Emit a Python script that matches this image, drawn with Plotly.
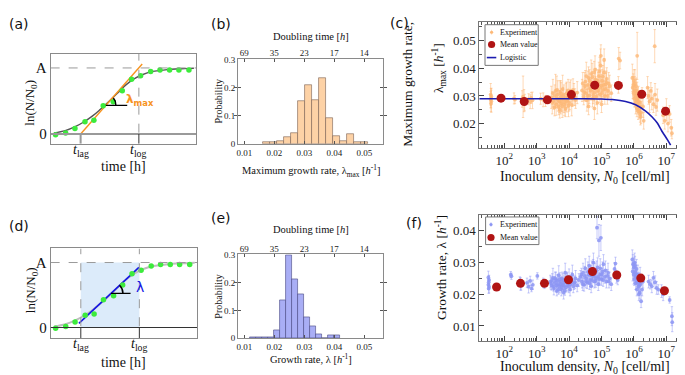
import plotly.graph_objects as go

W, H = 685, 375
SERIF = "Liberation Serif, Times New Roman, serif"
SANS = "DejaVu Sans, Arial, sans-serif"


def px(x):
    return x / W


def py(y):
    return 1 - y / H


# ---------------- schematic growth curve, panels (a) and (d) ----------------
sch_time = [0.34, 1.03, 1.67, 2.36, 2.97, 3.61, 4.30, 4.92, 5.56, 6.18, 6.87, 7.51, 8.17, 8.81, 9.50]
sch_lnN = [-0.01, 0.015, 0.084, 0.187, 0.207, 0.428, 0.487, 0.655, 0.827, 0.882, 0.945, 0.968, 0.968, 0.968, 0.968]
sch_curve_t = [0.23, 1.0, 1.72, 2.3, 2.86, 3.4, 4.0, 4.6, 5.15, 5.7, 6.29, 6.85, 7.44, 8.0, 8.58, 9.2, 9.84]
sch_curve_v = [0.015, 0.05, 0.114, 0.185, 0.27, 0.37, 0.49, 0.62, 0.74, 0.83, 0.897, 0.94, 0.96, 0.975, 0.985, 0.99, 0.995]
t_lag, t_log = 2.06, 6.06
tangent_t = [2.06, 6.29]
tangent_v = [0.0, 1.06]
fit_t = [1.93, 6.03]
fit_v = [0.065, 0.925]

# ---------------- histograms (b) and (e) ----------------
b_bin_left = [0.0162, 0.0185, 0.0209, 0.0232, 0.0255, 0.0279, 0.0302, 0.0325,
              0.0348, 0.0372, 0.0395, 0.0418, 0.0441, 0.0465, 0.0488]
b_prob = [0.006, 0.006, 0.010, 0.023, 0.037, 0.152, 0.208, 0.156,
          0.233, 0.093, 0.028, 0.009, 0.034, 0.006, 0.005]
b_width = 0.00233
e_bin_left = [0.012, 0.014, 0.016, 0.018, 0.020, 0.022, 0.024, 0.026,
              0.028, 0.030, 0.032, 0.034, 0.036, 0.038, 0.040]
e_prob = [0.005, 0.005, 0.005, 0.005, 0.029, 0.138, 0.300, 0.213,
          0.158, 0.075, 0.043, 0.015, 0.0, 0.010, 0.010]
e_width = 0.002
rate_ticks = [0.01, 0.02, 0.03, 0.04, 0.05]
rate_ticktext = ["0.01", "0.02", "0.03", "0.04", "0.05"]
doubling_ticktext = ["69", "35", "23", "17", "14"]

# ---------------- panel (c): maximum growth rate vs inoculum (log10 N0, rate, error) ----------------
c_exp_log = [1.58, 1.60, 1.59, 1.58, 1.60, 1.59,
             2.30, 2.33, 2.55, 2.58, 2.61, 2.63, 2.75, 2.80, 2.83, 2.87, 3.12, 3.20, 3.27,
             3.45, 3.50, 3.52, 3.56, 3.58, 3.60, 3.63, 3.65, 3.68, 3.70, 3.72, 3.74, 3.76, 3.78,
             3.80, 3.82, 3.85, 3.87, 3.90, 3.92, 3.95, 3.98, 4.02, 4.05, 4.10, 4.15, 4.20, 4.25,
             3.48, 3.55, 3.62, 3.66, 3.71, 3.75, 3.79, 3.84, 3.89, 3.93, 3.97, 4.00, 4.08, 4.12, 4.18,
             4.40, 4.45, 4.48, 4.50, 4.52, 4.55, 4.58, 4.60, 4.60, 4.62, 4.65, 4.68, 4.70, 4.72,
             4.75, 4.78, 4.78, 4.80, 4.82, 4.85, 4.87, 4.90, 4.92, 4.95, 4.97, 4.98, 5.00, 5.00,
             5.02, 5.05, 5.08, 5.08, 5.10, 5.13, 5.16, 5.20, 5.25, 5.30,
             4.42, 4.47, 4.53, 4.57, 4.63, 4.67, 4.71, 4.74, 4.77, 4.81, 4.84, 4.88, 4.91, 4.94,
             4.96, 5.01, 5.04, 5.07, 5.11, 5.15, 5.18, 5.22,
             5.52, 5.53, 5.57,
             5.95, 5.98, 6.00, 6.02, 6.04, 6.06, 6.08, 6.10, 6.10, 6.12, 6.14, 6.16, 6.18, 6.20,
             6.22, 6.25, 6.28, 6.30,
             5.96, 5.99, 6.01, 6.03, 6.05, 6.07, 6.09, 6.11, 6.13, 6.15, 6.19, 6.21,
             6.42, 6.45, 6.48, 6.52, 6.55, 6.60, 6.64, 6.65, 6.68, 6.72,
             6.90, 6.95, 7.00, 7.05, 7.10, 7.15, 7.17]
c_exp_rate = [0.0305, 0.0298, 0.0292, 0.0287, 0.0281, 0.0273,
              0.0291, 0.0287, 0.0289, 0.0297, 0.0283, 0.0276, 0.0288, 0.0279, 0.0293, 0.0284,
              0.0290, 0.0286, 0.0282,
              0.0295, 0.0310, 0.0282, 0.0300, 0.0318, 0.0270, 0.0290, 0.0305, 0.0262, 0.0280,
              0.0315, 0.0295, 0.0272, 0.0285, 0.0325, 0.0302, 0.0268, 0.0278, 0.0296, 0.0310,
              0.0288, 0.0265, 0.0300, 0.0318, 0.0292, 0.0305, 0.0285, 0.0312,
              0.0275, 0.0258, 0.0322, 0.0285, 0.0250, 0.0308, 0.0262, 0.0290, 0.0255, 0.0282,
              0.0320, 0.0275, 0.0268, 0.0322, 0.0296,
              0.0320, 0.0298, 0.0335, 0.0352, 0.0310, 0.0285, 0.0340, 0.0365, 0.0262, 0.0302,
              0.0325, 0.0380, 0.0348, 0.0290, 0.0335, 0.0312, 0.0255, 0.0395, 0.0360, 0.0328,
              0.0275, 0.0345, 0.0372, 0.0305, 0.0410, 0.0445, 0.0338, 0.0270, 0.0355, 0.0322,
              0.0385, 0.0430, 0.0300, 0.0342, 0.0362, 0.0318, 0.0335, 0.0310,
              0.0345, 0.0312, 0.0372, 0.0300, 0.0355, 0.0318, 0.0368, 0.0302, 0.0385, 0.0330,
              0.0298, 0.0355, 0.0318, 0.0390, 0.0330, 0.0310, 0.0370, 0.0340, 0.0325, 0.0350,
              0.0300, 0.0345,
              0.0340, 0.0435, 0.0428,
              0.0365, 0.0340, 0.0355, 0.0320, 0.0300, 0.0335, 0.0285, 0.0310, 0.0445, 0.0265,
              0.0295, 0.0250, 0.0275, 0.0225, 0.0240, 0.0300, 0.0262, 0.0210,
              0.0330, 0.0310, 0.0290, 0.0345, 0.0275, 0.0320, 0.0255, 0.0290, 0.0245, 0.0280,
              0.0235, 0.0260,
              0.0330, 0.0300, 0.0280, 0.0318, 0.0290, 0.0270, 0.0480, 0.0305, 0.0260, 0.0285,
              0.0230, 0.0210, 0.0250, 0.0200, 0.0235, 0.0185, 0.0165]
c_exp_err = [0.004, 0.003, 0.0035, 0.003, 0.004, 0.003,
             0.002, 0.0015, 0.003, 0.0075, 0.004, 0.003, 0.002, 0.0025, 0.002, 0.003,
             0.002, 0.0025, 0.002,
             0.004, 0.005, 0.003, 0.004, 0.006, 0.004, 0.003, 0.005, 0.003, 0.004,
             0.004, 0.006, 0.003, 0.004, 0.005, 0.003, 0.004, 0.003, 0.005, 0.004,
             0.003, 0.004, 0.005, 0.004, 0.003, 0.004, 0.003, 0.004,
             0.004, 0.003, 0.005, 0.004, 0.003, 0.004, 0.004, 0.005, 0.003, 0.004,
             0.004, 0.003, 0.004, 0.004, 0.003,
             0.004, 0.003, 0.005, 0.004, 0.003, 0.004, 0.005, 0.004, 0.003, 0.003,
             0.004, 0.005, 0.004, 0.003, 0.004, 0.003, 0.004, 0.005, 0.004, 0.003,
             0.004, 0.004, 0.005, 0.003, 0.006, 0.004, 0.004, 0.003, 0.004, 0.003,
             0.005, 0.004, 0.003, 0.004, 0.004, 0.003, 0.004, 0.003,
             0.004, 0.003, 0.005, 0.004, 0.004, 0.003, 0.005, 0.003, 0.004, 0.004,
             0.003, 0.004, 0.003, 0.005, 0.004, 0.003, 0.004, 0.004, 0.003, 0.004,
             0.003, 0.004,
             0.003, 0.004, 0.003,
             0.005, 0.004, 0.004, 0.005, 0.004, 0.003, 0.004, 0.004, 0.0085, 0.003,
             0.004, 0.003, 0.004, 0.003, 0.004, 0.003, 0.004, 0.003,
             0.004, 0.004, 0.003, 0.005, 0.004, 0.004, 0.003, 0.004, 0.003, 0.004,
             0.003, 0.004,
             0.004, 0.003, 0.004, 0.003, 0.004, 0.003, 0.006, 0.004, 0.003, 0.004,
             0.003, 0.003, 0.004, 0.003, 0.003, 0.003, 0.002]
c_mean_log = [1.90, 2.615, 3.33, 4.07, 4.79, 5.52, 6.24, 6.975]
c_mean_rate = [0.0292, 0.0280, 0.0286, 0.0305, 0.0339, 0.0338, 0.0306, 0.0245]
c_logistic_log = [1.23, 3.0, 4.5, 5.0, 5.33, 5.74, 6.05, 6.36, 6.56, 6.72, 6.85, 7.03, 7.13]
c_logistic_rate = [0.0290, 0.0290, 0.0290, 0.0289, 0.0287, 0.0280, 0.0268, 0.0245,
                   0.0224, 0.0202, 0.0175, 0.0142, 0.0122]

# ---------------- panel (f): growth rate vs inoculum (log10 N0, rate, error) ----------------
f_exp_log = [1.51, 1.53, 1.52, 1.51, 1.53, 1.52,
             2.20, 2.22, 2.48, 2.50, 2.52, 2.70, 2.75, 2.80, 2.84, 2.88, 3.02, 3.20, 3.24,
             3.42, 3.46, 3.50, 3.53, 3.56, 3.59, 3.62, 3.65, 3.68, 3.70, 3.73, 3.76, 3.78, 3.80,
             3.83, 3.85, 3.88, 3.90, 3.93, 3.96, 4.00, 4.03, 4.06, 4.10, 4.15, 4.20, 4.25, 4.30,
             3.44, 3.48, 3.52, 3.57, 3.61, 3.64, 3.67, 3.71, 3.74, 3.77, 3.81, 3.84, 3.87, 3.91,
             3.95, 3.99, 4.04, 4.08, 4.13, 4.18,
             4.35, 4.40, 4.43, 4.46, 4.50, 4.53, 4.56, 4.60, 4.62, 4.65, 4.68, 4.70, 4.72, 4.75,
             4.78, 4.80, 4.83, 4.86, 4.88, 4.90, 4.92, 4.95, 4.98, 5.00, 5.03, 5.06, 5.10, 5.15,
             5.20, 5.25, 5.30,
             4.38, 4.42, 4.48, 4.52, 4.58, 4.63, 4.67, 4.71, 4.74, 4.77, 4.82, 4.85, 4.89, 4.93,
             4.96, 5.01, 5.05, 5.12, 5.18, 5.23,
             5.40, 5.43, 5.46, 5.50,
             5.95, 5.97, 6.00, 6.02, 6.04, 6.06, 6.08, 6.10, 6.12, 6.14, 6.16, 6.18, 6.20, 6.22,
             6.25, 6.28,
             5.96, 5.99, 6.01, 6.03, 6.05, 6.07, 6.09, 6.11, 6.13, 6.15, 6.17, 6.19,
             6.45, 6.50, 6.55, 6.60, 6.65, 6.70, 6.75,
             6.85, 6.90, 7.10, 7.17, 7.18]
f_exp_rate = [0.0253, 0.0245, 0.0238, 0.0230, 0.0224, 0.0218,
              0.0262, 0.0257, 0.0240, 0.0233, 0.0228, 0.0236, 0.0224, 0.0242, 0.0218, 0.0230,
              0.0258, 0.0236, 0.0228,
              0.0240, 0.0228, 0.0252, 0.0218, 0.0236, 0.0245, 0.0210, 0.0232, 0.0260, 0.0224,
              0.0240, 0.0215, 0.0250, 0.0230, 0.0205, 0.0238, 0.0268, 0.0222, 0.0245, 0.0230,
              0.0255, 0.0215, 0.0240, 0.0262, 0.0235, 0.0250, 0.0228, 0.0245,
              0.0235, 0.0245, 0.0225, 0.0250, 0.0228, 0.0242, 0.0215, 0.0248, 0.0232, 0.0222,
              0.0245, 0.0228, 0.0212, 0.0238, 0.0250, 0.0225, 0.0232, 0.0248, 0.0225, 0.0238,
              0.0255, 0.0240, 0.0268, 0.0230, 0.0282, 0.0250, 0.0238, 0.0262, 0.0290, 0.0245,
              0.0225, 0.0275, 0.0258, 0.0300, 0.0240, 0.0268, 0.0250, 0.0410, 0.0285, 0.0232,
              0.0370, 0.0262, 0.0378, 0.0248, 0.0272, 0.0295, 0.0255, 0.0240, 0.0268, 0.0250,
              0.0232,
              0.0262, 0.0232, 0.0258, 0.0240, 0.0272, 0.0235, 0.0260, 0.0245, 0.0280, 0.0258,
              0.0242, 0.0275, 0.0255, 0.0248, 0.0282, 0.0262, 0.0245, 0.0275, 0.0258, 0.0240,
              0.0280, 0.0297, 0.0255, 0.0245,
              0.0310, 0.0295, 0.0285, 0.0300, 0.0270, 0.0255, 0.0280, 0.0240, 0.0262, 0.0225,
              0.0248, 0.0205, 0.0232, 0.0178, 0.0215, 0.0240,
              0.0272, 0.0262, 0.0248, 0.0290, 0.0235, 0.0262, 0.0215, 0.0250, 0.0240, 0.0200,
              0.0230, 0.0255,
              0.0240, 0.0232, 0.0225, 0.0252, 0.0238, 0.0220, 0.0215,
              0.0210, 0.0200, 0.0182, 0.0131, 0.0112]
f_exp_err = [0.002, 0.0015, 0.002, 0.0015, 0.002, 0.0015,
             0.001, 0.001, 0.0015, 0.002, 0.0015, 0.0015, 0.002, 0.0015, 0.001, 0.0015,
             0.001, 0.0015, 0.001,
             0.002, 0.0015, 0.003, 0.002, 0.002, 0.0025, 0.0015, 0.002, 0.003, 0.002,
             0.0015, 0.002, 0.002, 0.0015, 0.002, 0.002, 0.003, 0.0015, 0.002, 0.002,
             0.0025, 0.002, 0.002, 0.003, 0.002, 0.0025, 0.002, 0.002,
             0.002, 0.002, 0.0015, 0.002, 0.002, 0.002, 0.0015, 0.002, 0.002, 0.0015,
             0.002, 0.002, 0.0015, 0.002, 0.002, 0.002, 0.002, 0.002, 0.002, 0.002,
             0.002, 0.002, 0.003, 0.002, 0.003, 0.002, 0.002, 0.003, 0.003, 0.002,
             0.002, 0.003, 0.002, 0.003, 0.002, 0.003, 0.002, 0.0035, 0.003, 0.002,
             0.005, 0.003, 0.004, 0.002, 0.003, 0.003, 0.002, 0.002, 0.003, 0.002,
             0.002,
             0.002, 0.002, 0.003, 0.002, 0.003, 0.002, 0.003, 0.002, 0.003, 0.002,
             0.002, 0.003, 0.002, 0.002, 0.003, 0.002, 0.002, 0.003, 0.002, 0.002,
             0.002, 0.002, 0.002, 0.0015,
             0.003, 0.003, 0.003, 0.003, 0.003, 0.002, 0.003, 0.002, 0.003, 0.002,
             0.002, 0.002, 0.003, 0.002, 0.002, 0.002,
             0.003, 0.003, 0.002, 0.003, 0.002, 0.003, 0.002, 0.002, 0.002, 0.002,
             0.002, 0.003,
             0.002, 0.0015, 0.002, 0.002, 0.002, 0.002, 0.0015,
             0.002, 0.002, 0.001, 0.003, 0.003]
f_mean_log = [1.763, 2.50, 3.24, 3.98, 4.72, 5.47, 6.21, 6.94]
f_mean_rate = [0.0223, 0.02345, 0.02345, 0.0246, 0.0272, 0.0261, 0.0251, 0.0211]

capacity_log = 7.38
decade_exps = [2, 3, 4, 5, 6, 7]

# ---------------- colours ----------------
FRAME = "#8a8a8a"
ORANGE = "#F7931E"
GREEN = "#3CEB3C"
DARKRED = "#B01414"
NAVY = "#1C1CB0"
EXP_C = "#FDB877"
EXP_C_ERR = "rgba(253,185,120,0.6)"
EXP_F = "#8C95F3"
EXP_F_ERR = "rgba(150,158,245,0.6)"

fig = go.Figure()

# ---- (a) ----
fig.add_trace(go.Scatter(x=sch_curve_t, y=sch_curve_v, mode="lines", xaxis="x", yaxis="y",
                         line=dict(color="#555555", width=1.4, shape="spline"), hoverinfo="skip"))
fig.add_trace(go.Scatter(x=tangent_t, y=tangent_v, mode="lines", xaxis="x", yaxis="y",
                         line=dict(color=ORANGE, width=1.4), hoverinfo="skip"))
fig.add_trace(go.Scatter(x=sch_time, y=sch_lnN, mode="markers", xaxis="x", yaxis="y",
                         marker=dict(color=GREEN, size=5.5), hoverinfo="skip"))

# ---- (d) ----
fig.add_trace(go.Scatter(x=sch_curve_t, y=sch_curve_v, mode="lines", xaxis="x4", yaxis="y4",
                         line=dict(color="#bdbdbd", width=2, shape="spline"), hoverinfo="skip"))
fig.add_trace(go.Scatter(x=fit_t, y=fit_v, mode="lines", xaxis="x4", yaxis="y4",
                         line=dict(color="#1414E6", width=1.6), hoverinfo="skip"))
fig.add_trace(go.Scatter(x=sch_time, y=sch_lnN, mode="markers", xaxis="x4", yaxis="y4",
                         marker=dict(color=GREEN, size=5.5), hoverinfo="skip"))

# ---- (b) and (e) histograms ----
b_centers = [v + b_width / 2 for v in b_bin_left]
e_centers = [v + e_width / 2 for v in e_bin_left]
fig.add_trace(go.Bar(x=b_centers, y=b_prob, width=b_width, xaxis="x2", yaxis="y2",
                     marker=dict(color="#FDD2A6", line=dict(color="rgba(120,95,80,0.75)", width=0.8)),
                     hoverinfo="skip"))
fig.add_trace(go.Bar(x=e_centers, y=e_prob, width=e_width, xaxis="x5", yaxis="y5",
                     marker=dict(color="#A9AEF5", line=dict(color="rgba(70,70,130,0.75)", width=0.8)),
                     hoverinfo="skip"))
# anchors for the top (doubling time) axes
fig.add_trace(go.Scatter(x=[0.03], y=[0], xaxis="x7", yaxis="y2", mode="markers",
                         marker=dict(opacity=0), hoverinfo="skip"))
fig.add_trace(go.Scatter(x=[0.03], y=[0], xaxis="x8", yaxis="y5", mode="markers",
                         marker=dict(opacity=0), hoverinfo="skip"))

# ---- (c) ----
fig.add_trace(go.Scatter(x=[10 ** v for v in c_exp_log], y=c_exp_rate, mode="markers",
                         xaxis="x3", yaxis="y3", name="Experiment",
                         marker=dict(color=EXP_C, size=3.8, opacity=0.8),
                         error_y=dict(type="data", array=c_exp_err, color=EXP_C_ERR, thickness=0.9, width=1.2),
                         hoverinfo="skip"))
fig.add_trace(go.Scatter(x=[10 ** v for v in c_logistic_log], y=c_logistic_rate, mode="lines",
                         xaxis="x3", yaxis="y3", name="Logistic",
                         line=dict(color=NAVY, width=1.6, shape="spline", smoothing=0.6), hoverinfo="skip"))
fig.add_trace(go.Scatter(x=[10 ** v for v in c_mean_log], y=c_mean_rate, mode="markers",
                         xaxis="x3", yaxis="y3", name="Mean value",
                         marker=dict(color=DARKRED, size=9), hoverinfo="skip"))

# ---- (f) ----
fig.add_trace(go.Scatter(x=[10 ** v for v in f_exp_log], y=f_exp_rate, mode="markers",
                         xaxis="x6", yaxis="y6", name="Experiment",
                         marker=dict(color=EXP_F, size=3.8, opacity=0.85),
                         error_y=dict(type="data", array=f_exp_err, color=EXP_F_ERR, thickness=0.9, width=1.2),
                         hoverinfo="skip"))
fig.add_trace(go.Scatter(x=[10 ** v for v in f_mean_log], y=f_mean_rate, mode="markers",
                         xaxis="x6", yaxis="y6", name="Mean value",
                         marker=dict(color=DARKRED, size=9), hoverinfo="skip"))

# ---------------- axes ----------------
base = dict(showgrid=False, zeroline=False, showline=True, linecolor=FRAME, linewidth=1,
            mirror=True, fixedrange=True)

sch_x = dict(showticklabels=False, ticks="")
sch_ticky = dict(tickvals=[0, 1], ticktext=["0", "A"], ticks="",
                 tickfont=dict(family=SERIF, size=15, color="#111"))

hist_x = dict(tickvals=rate_ticks, ticktext=rate_ticktext, ticks="inside", ticklen=3,
              tickcolor="#555", tickfont=dict(family=SERIF, size=9, color="#222"))
hist_y = dict(tickvals=[0, 0.1, 0.2, 0.3], ticktext=["0", "0.1", "0.2", "0.3"], ticks="inside",
              ticklen=3, tickcolor="#555", tickfont=dict(family=SERIF, size=9, color="#222"))
hist_top = dict(tickvals=rate_ticks, ticktext=doubling_ticktext, ticks="inside", ticklen=3,
                tickcolor="#555", side="top", showline=False, showgrid=False, zeroline=False,
                range=[0.00787, 0.0564], fixedrange=True,
                tickfont=dict(family=SERIF, size=9, color="#222"))

minor_log = [m * 10 ** e for e in range(1, 8) for m in range(2, 10)]
log_x = dict(type="log", range=[1.23, 7.75], tickvals=[10 ** e for e in decade_exps],
             ticktext=["10<sup>%d</sup>" % e for e in decade_exps], ticks="inside", ticklen=5,
             tickcolor="#444", mirror="allticks", linecolor="#777",
             minor=dict(tickmode="array", tickvals=minor_log, ticks="inside", ticklen=3,
                        tickcolor="#555", showgrid=False),
             tickfont=dict(family=SERIF, size=13, color="#222"))

fig.update_layout(
    xaxis=dict(base, domain=[px(41.7), px(187.5)], range=[0, 10], anchor="y", **sch_x),
    yaxis=dict(base, domain=[py(135), py(42.7)], range=[-0.148, 1.216], anchor="x", **sch_ticky),
    xaxis4=dict(base, domain=[px(41.7), px(188.3)], range=[0, 10], anchor="y4", **sch_x),
    yaxis4=dict(base, domain=[py(334), py(242.3)], range=[-0.161, 1.216], anchor="x4", **sch_ticky),
    xaxis2=dict(base, domain=[px(229.3), px(375)], range=[0.00787, 0.0564], anchor="y2", **hist_x),
    yaxis2=dict(base, domain=[py(135), py(48.3)], range=[0, 0.3024], anchor="x2",
                **dict(hist_y, mirror="allticks")),
    xaxis7=dict(hist_top, overlaying="x2", anchor="y2"),
    xaxis5=dict(base, domain=[px(229.3), px(375)], range=[0.00787, 0.0564], anchor="y5", **hist_x),
    yaxis5=dict(base, domain=[py(334.3), py(248.3)], range=[0, 0.3035], anchor="x5",
                **dict(hist_y, mirror="allticks")),
    xaxis8=dict(hist_top, overlaying="x5", anchor="y5"),
    xaxis3=dict(base, domain=[px(471), px(682.7)], anchor="y3", **log_x),
    yaxis3=dict(base, domain=[py(139.5), py(10.7)], range=[0.01112, 0.05658], anchor="x3",
                tickvals=[0.02, 0.03, 0.04, 0.05], ticktext=["0.02", "0.03", "0.04", "0.05"],
                ticks="inside", ticklen=5, tickcolor="#444", mirror="allticks", linecolor="#777",
                minor=dict(dtick=0.005, tick0=0, ticks="inside", ticklen=3, tickcolor="#555"),
                tickfont=dict(family=SERIF, size=13, color="#222")),
    xaxis6=dict(base, domain=[px(471), px(682.7)], anchor="y6", **log_x),
    yaxis6=dict(base, domain=[py(337), py(207.7)], range=[0.00529, 0.0451], anchor="x6",
                tickvals=[0.01, 0.02, 0.03, 0.04], ticktext=["0.01", "0.02", "0.03", "0.04"],
                ticks="inside", ticklen=5, tickcolor="#444", mirror="allticks", linecolor="#777",
                minor=dict(dtick=0.005, tick0=0, ticks="inside", ticklen=3, tickcolor="#555"),
                tickfont=dict(family=SERIF, size=13, color="#222")),
)

# ---------------- shapes ----------------
shapes = []
# (a)
shapes += [
    dict(type="line", xref="x", yref="y", x0=0, x1=10, y0=1, y1=1,
         line=dict(color="#9a9a9a", width=1, dash="dash")),
    dict(type="line", xref="x", yref="y", x0=0, x1=10, y0=0, y1=0,
         line=dict(color="#9a9a9a", width=2.2)),
    dict(type="line", xref="x", yref="y", x0=t_lag, x1=t_lag, y0=-0.148, y1=0,
         line=dict(color="#9a9a9a", width=2)),
    dict(type="line", xref="x", yref="y", x0=t_log, x1=t_log, y0=0.02, y1=1.216,
         line=dict(color="#9a9a9a", width=1, dash="dash")),
    dict(type="line", xref="x", yref="y", x0=t_log, x1=t_log, y0=-0.148, y1=0,
         line=dict(color="#333333", width=1)),
    dict(type="line", xref="x", yref="y", x0=3.79, x1=5.26, y0=0.433, y1=0.433,
         line=dict(color="black", width=1.3)),
    dict(type="path", xref="x", yref="y", path="M 4.48,0.433 Q 4.48,0.501 4.31,0.544",
         line=dict(color="black", width=1.5)),
]
# (d)
shapes += [
    dict(type="rect", xref="x4", yref="y4", x0=t_lag, x1=t_log, y0=0, y1=1,
         fillcolor="#DCEBFA", line=dict(width=0), layer="below"),
    dict(type="line", xref="x4", yref="y4", x0=0, x1=10, y0=1, y1=1,
         line=dict(color="#9a9a9a", width=1, dash="dash")),
    dict(type="line", xref="x4", yref="y4", x0=0, x1=10, y0=0, y1=0,
         line=dict(color="#333333", width=1)),
    dict(type="line", xref="x4", yref="y4", x0=t_lag, x1=t_lag, y0=0.02, y1=1.216,
         line=dict(color="#9a9a9a", width=1, dash="dash")),
    dict(type="line", xref="x4", yref="y4", x0=t_log, x1=t_log, y0=0.02, y1=1.216,
         line=dict(color="#9a9a9a", width=1, dash="dash")),
    dict(type="line", xref="x4", yref="y4", x0=t_lag, x1=t_lag, y0=-0.161, y1=0,
         line=dict(color="#333333", width=1)),
    dict(type="line", xref="x4", yref="y4", x0=t_log, x1=t_log, y0=-0.161, y1=0,
         line=dict(color="#333333", width=1)),
    dict(type="line", xref="x4", yref="y4", x0=4.12, x1=5.46, y0=0.525, y1=0.525,
         line=dict(color="black", width=1.3)),
    dict(type="path", xref="x4", yref="y4", path="M 4.94,0.525 Q 4.94,0.597 4.71,0.65",
         line=dict(color="black", width=1.5)),
]
# carrying-capacity dashed lines in (c) and (f)
for xr, yr in (("x3", "y3 domain"), ("x6", "y6 domain")):
    shapes.append(dict(type="line", xref=xr, yref=yr, x0=10 ** capacity_log, x1=10 ** capacity_log,
                       y0=0, y1=1, line=dict(color="#444444", width=1.3, dash="16px,6px")))


# manual legends
def legend_box(x0, y0, x1, y1):
    return dict(type="rect", xref="paper", yref="paper", x0=px(x0), x1=px(x1), y0=py(y1), y1=py(y0),
                line=dict(color="#777777", width=1), fillcolor="white", layer="above")


def dot(xc, yc, r, color):
    return dict(type="circle", xref="paper", yref="paper", x0=px(xc - r), x1=px(xc + r),
                y0=py(yc + r), y1=py(yc - r), fillcolor=color, line=dict(width=0), layer="above")


shapes += [
    legend_box(476.7, 13, 530, 54.7),
    dict(type="line", xref="paper", yref="paper", x0=px(483.3), x1=px(483.3), y0=py(23.2), y1=py(18.2),
         line=dict(color=EXP_C_ERR, width=0.8), layer="above"),
    dot(483.3, 20.7, 1.6, EXP_C),
    dot(483.3, 33.3, 3.6, DARKRED),
    dict(type="line", xref="paper", yref="paper", x0=px(478.5), x1=px(488), y0=py(46.7), y1=py(46.7),
         line=dict(color=NAVY, width=1.6), layer="above"),
    legend_box(477.3, 210, 530.7, 238.3),
    dict(type="line", xref="paper", yref="paper", x0=px(482.7), x1=px(482.7), y0=py(220.2), y1=py(215.2),
         line=dict(color=EXP_F_ERR, width=0.8), layer="above"),
    dot(482.7, 217.7, 1.6, EXP_F),
    dot(482.7, 231, 3.6, DARKRED),
]
fig.update_layout(shapes=shapes)


# ---------------- annotations ----------------
def ann(text, x, y, size, family=SERIF, color="#111", angle=0, xanchor="center", yanchor="middle"):
    return dict(text=text, x=px(x), y=py(y), xref="paper", yref="paper", showarrow=False,
                textangle=angle, xanchor=xanchor, yanchor=yanchor,
                font=dict(family=family, size=size, color=color))


def tick_ann(text, xref, xval, y, size=14):
    return dict(text=text, x=xval, y=py(y), xref=xref, yref="paper", showarrow=False,
                xanchor="center", yanchor="middle",
                font=dict(family=SERIF, size=size, color="#111"))


annotations = [
    # panel labels
    ann("(a)", 10, 12, 14, SANS),
    ann("(b)", 212, 12, 14, SANS),
    ann("(c)", 391, 11, 14, SANS),
    ann("(d)", 10, 219, 14, SANS),
    ann("(e)", 212, 211, 14, SANS),
    ann("(f)", 406, 216, 14, SANS),
    # (a)
    tick_ann("<i>t</i><sub>lag</sub>", "x", t_lag, 142),
    tick_ann("<i>t</i><sub>log</sub>", "x", t_log, 142),
    ann("time [h]", 114.5, 158, 14),
    ann("ln(N/N<sub>0</sub>)", 22, 93, 13, angle=-90),
    ann("<b>λ<sub>max</sub></b>", 115, 90, 12, SANS, ORANGE, xanchor="left"),
    # (d)
    tick_ann("<i>t</i><sub>lag</sub>", "x4", t_lag, 341),
    tick_ann("<i>t</i><sub>log</sub>", "x4", t_log, 341),
    ann("time [h]", 115, 359, 14),
    ann("ln(N/N<sub>0</sub>)", 22, 285, 13, angle=-90),
    ann("λ", 125, 282, 14, SANS, "#1414E6", xanchor="left"),
    # (b)
    ann("Doubling time [<i>h</i>]", 302, 25, 10.5),
    ann("Probability", 210, 92, 10, angle=-90),
    ann("Maximum growth rate, λ<sub>max</sub> [<i>h</i><sup>-1</sup>]", 302, 163, 10.5),
    # (e)
    ann("Doubling time [<i>h</i>]", 302, 223, 10.5),
    ann("Probability", 210, 292, 10, angle=-90),
    ann("Growth rate, λ [<i>h</i><sup>-1</sup>]", 302, 355, 10.5),
    # (c)
    ann("Inoculum density, <i>N</i><sub>0</sub> [cell/ml]", 577, 170, 14),
    ann("Maximum growth rate,", 399, 74, 13.5, angle=-90),
    ann("λ<sub>max</sub> [<i>h</i><sup>-1</sup>]", 431, 57, 13.5, angle=-90),
    ann("Experiment", 490, 20.7, 8, xanchor="left"),
    ann("Mean value", 490, 33.3, 8, xanchor="left"),
    ann("Logistic", 490, 46.7, 8, xanchor="left"),
    # (f)
    ann("Inoculum density, <i>N</i><sub>0</sub> [cell/ml]", 577, 364, 14),
    ann("Growth rate, λ [<i>h</i><sup>-1</sup>]", 433, 262, 13.5, angle=-90),
    ann("Experiment", 489.3, 217.7, 8, xanchor="left"),
    ann("Mean value", 489.3, 231, 8, xanchor="left"),
]

fig.update_layout(
    annotations=annotations,
    width=W, height=H,
    margin=dict(l=0, r=0, t=0, b=0),
    paper_bgcolor="white", plot_bgcolor="white",
    showlegend=False,
    barmode="overlay",
    bargap=0,
)

fig.write_html("out.html")
